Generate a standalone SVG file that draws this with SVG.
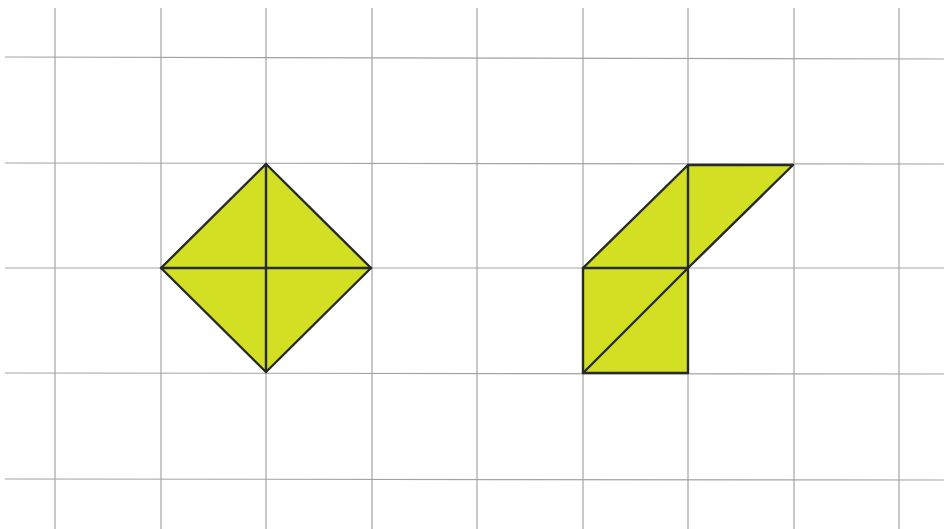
<svg xmlns="http://www.w3.org/2000/svg" width="944" height="529" viewBox="0 0 944 529">
<style>
.grid line{stroke:#a3a3a3;stroke-width:1.2}
.shape{fill:#d3df22;stroke:#262b28;stroke-width:2.4;stroke-linejoin:round}
.edge{stroke:#262b28;stroke-width:2.4;stroke-linecap:round}
</style>
<rect width="944" height="529" fill="#ffffff"/>
<g id="grid" class="grid">
<line x1="55" y1="8" x2="55" y2="529"/>
<line x1="161" y1="8" x2="161" y2="529"/>
<line x1="266" y1="8" x2="266" y2="529"/>
<line x1="372" y1="8" x2="372" y2="529"/>
<line x1="477" y1="8" x2="477" y2="529"/>
<line x1="583" y1="8" x2="583" y2="529"/>
<line x1="688" y1="8" x2="688" y2="529"/>
<line x1="794" y1="8" x2="794" y2="529"/>
<line x1="899" y1="8" x2="899" y2="529"/>
<line x1="5" y1="57" x2="944" y2="59"/>
<line x1="5" y1="163" x2="944" y2="164"/>
<line x1="5" y1="268" x2="944" y2="268"/>
<line x1="5" y1="373" x2="944" y2="374"/>
<line x1="5" y1="479" x2="944" y2="480"/>
</g>
<g id="diamond">
<polygon class="shape" points="266,164 371,268 266,372 161,268"/>
</g>
<g id="parallelogram-shape">
<polygon class="shape" points="583,268 688,165 793,165 688,268 688,373 583,373"/>
</g>
<g id="connectors">
<line class="edge" x1="266" y1="164" x2="266" y2="372"/>
<line class="edge" x1="161" y1="268" x2="371" y2="268"/>
<line class="edge" x1="688" y1="165" x2="688" y2="268"/>
<line class="edge" x1="583" y1="268" x2="688" y2="268"/>
<line class="edge" x1="583" y1="373" x2="688" y2="268"/>
</g>
</svg>
